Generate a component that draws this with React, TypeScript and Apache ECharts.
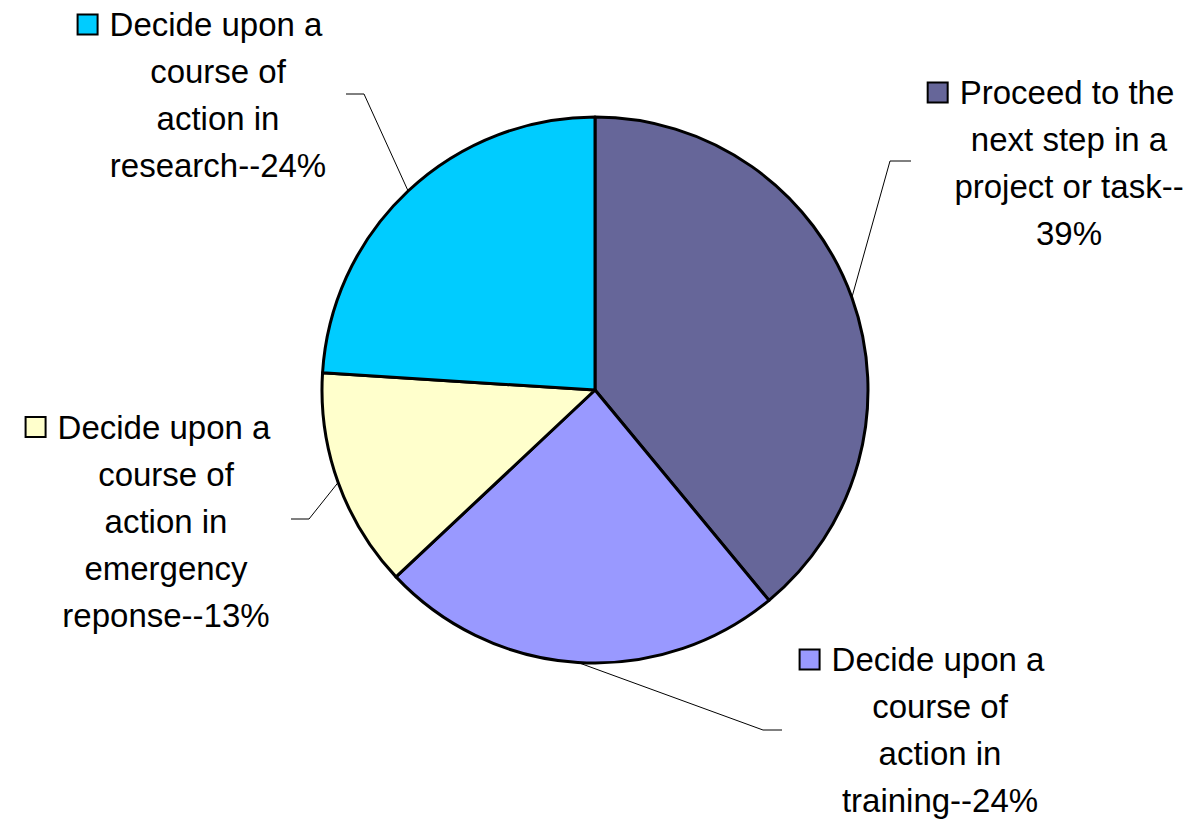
import React, { useEffect, useRef } from 'react';
import * as echarts from 'echarts';

const categories = [
  'Proceed to the next step in a project or task',
  'Decide upon a course of action in training',
  'Decide upon a course of action in emergency reponse',
  'Decide upon a course of action in research',
];
const values = [39, 24, 13, 24];
const labelLines = [
  ['Proceed to the', 'next step in a', 'project or task--', '39%'],
  ['Decide upon a', 'course of', 'action in', 'training--24%'],
  ['Decide upon a', 'course of', 'action in', 'emergency', 'reponse--13%'],
  ['Decide upon a', 'course of', 'action in', 'research--24%'],
];
const colors = ['#666699', '#9999FF', '#FFFFCC', '#00CCFF'];

// label placement (pixels): centre of each label block, leader elbow and end
const labelCenters = [[1069, 163], [940, 730], [166, 521], [218, 95]];
const leaderElbows = [
  [[890, 161], [911, 161]],
  [[763, 730], [782, 730]],
  [[309, 519], [291, 519]],
  [[364, 94], [346, 94]],
];

const FONT = 'Liberation Sans, Arial, sans-serif';
const FS = 33;
const LH = 47;

export default function App() {
  const ref = useRef<HTMLDivElement>(null);
  useEffect(() => {
    if (!ref.current) return;
    const chart = echarts.init(ref.current, undefined, { renderer: 'svg' });
    const rich: any = {
      t: { fontSize: FS, fontFamily: FONT, color: '#000', lineHeight: LH },
      sp: { width: 13, height: 20, lineHeight: LH },
      pad: { width: 35, height: 20, lineHeight: LH },
    };
    colors.forEach((c, i) => {
      rich['box' + i] = {
        width: 18,
        height: 18,
        backgroundColor: c,
        borderColor: '#000',
        borderWidth: 2,
        lineHeight: LH,
      };
    });
    chart.setOption({
      animation: false,
      backgroundColor: '#fff',
      series: [
        {
          type: 'pie',
          center: [595, 390],
          radius: 273,
          startAngle: 90,
          clockwise: true,
          avoidLabelOverlap: false,
          data: categories.map((name, i) => ({
            name,
            value: values[i],
            itemStyle: { color: colors[i] },
          })),
          itemStyle: { borderColor: '#000', borderWidth: 3 },
          emphasis: { disabled: true },
          label: {
            show: true,
            position: 'outside',
            fontFamily: FONT,
            fontSize: FS,
            color: '#000',
            lineHeight: LH,
            formatter: (p: any) => {
              const lines = labelLines[p.dataIndex];
              return lines
                .map((l, k) =>
                  k === 0
                    ? `{box${p.dataIndex}|}{sp|}{t|${l}}{pad|}`
                    : `{t|${l}}`
                )
                .join('\n');
            },
            rich,
          },
          labelLine: {
            show: true,
            length: 20,
            length2: 20,
            lineStyle: { color: '#000', width: 1 },
          },
          labelLayout: (params: any) => {
            const i = params.dataIndex;
            const pts = params.labelLinePoints;
            const start = pts && pts[0] ? pts[0] : leaderElbows[i][0];
            return {
              x: labelCenters[i][0],
              y: labelCenters[i][1],
              align: 'center',
              verticalAlign: 'middle',
              labelLinePoints: [start, leaderElbows[i][0], leaderElbows[i][1]],
            };
          },
        },
      ],
    });
    return () => chart.dispose();
  }, []);
  return (
    <div
      ref={ref}
      style={{ position: 'absolute', left: 0, top: 0, width: 1203, height: 819 }}
    />
  );
}
